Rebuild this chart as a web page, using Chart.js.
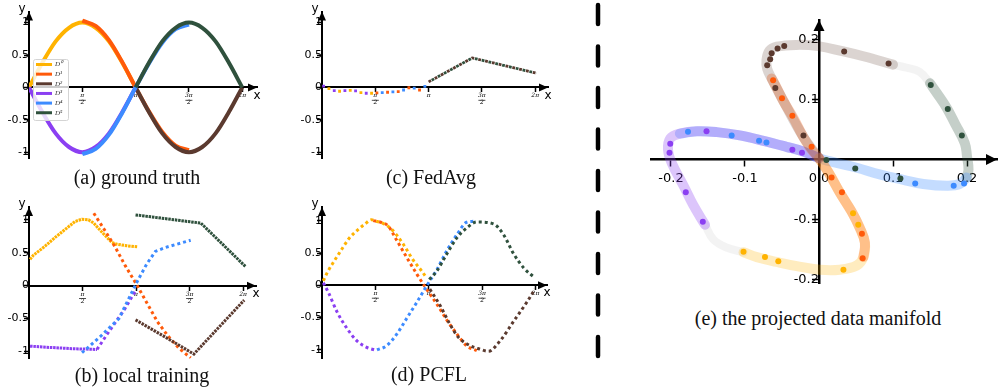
<!DOCTYPE html>
<html>
<head>
<meta charset="utf-8">
<script src="https://cdn.jsdelivr.net/npm/chart.js@4.4.0/dist/chart.umd.min.js"></script>
<style>
  body { margin: 0; background: #fff; width: 998px; height: 389px; position: relative; overflow: hidden; }
  canvas { position: absolute; }
  .cap { position: absolute; font-family: "Liberation Serif", serif; font-size: 20px; color: #111; white-space: nowrap; transform: translate(-50%, -50%); }
  svg { position: absolute; left: 590px; top: 0; }
</style>
</head>
<body>
<canvas id="chartA" width="270" height="170" style="left:0;top:0"></canvas>
<canvas id="chartC" width="285" height="170" style="left:270px;top:0"></canvas>
<canvas id="chartB" width="270" height="175" style="left:0;top:195px"></canvas>
<canvas id="chartD" width="285" height="175" style="left:270px;top:195px"></canvas>
<canvas id="chartE" width="378" height="300" style="left:620px;top:0"></canvas>
<svg width="16" height="389"><line x1="8" y1="5" x2="8" y2="360" stroke="#000" stroke-width="4.5" stroke-linecap="round" stroke-dasharray="19 22.5"/></svg>
<div class="cap" style="left:137px;top:177px">(a) ground truth</div>
<div class="cap" style="left:431px;top:177px">(c) FedAvg</div>
<div class="cap" style="left:142px;top:375px">(b) local training</div>
<div class="cap" style="left:429px;top:374px">(d) PCFL</div>
<div class="cap" style="left:818px;top:318px">(e) the projected data manifold</div>

<script>
// --- Vars ---
const seriesNames = ['D⁰', 'D¹', 'D²', 'D³', 'D⁴', 'D⁵']
const seriesColors = ['#ffb300', '#ff5a0a', '#5b3a2f', '#8b3ff2', '#3d8bff', '#2f513d']

// x is measured in units of pi/2
const xTickValues = [1, 2, 3, 4]
const xTickLabels = [['π', '2'], 'π', ['3π', '2'], '2π']
const yTickValues = [-1, -0.5, 0, 0.5, 1]
const yTickLabels = ['-1', '-0.5', '0', '0.5', '1']

// (a) ground truth
const gt_D0 = [[0, 0], [0.25, 0.38], [0.5, 0.71], [0.75, 0.92], [1, 1], [1.25, 0.92], [1.5, 0.71], [1.75, 0.38], [2, 0]]
const gt_D1 = [[1, 1.03], [1.25, 0.95], [1.5, 0.73], [1.75, 0.39], [2, 0], [2.25, -0.37], [2.5, -0.69], [2.75, -0.9], [3, -0.97]]
const gt_D2 = [[2, 0], [2.25, -0.38], [2.5, -0.71], [2.75, -0.92], [3, -1], [3.25, -0.92], [3.5, -0.71], [3.75, -0.38], [4, 0]]
const gt_D3 = [[0, 0], [0.25, -0.38], [0.5, -0.71], [0.75, -0.92], [1, -1], [1.25, -0.92], [1.5, -0.71], [1.75, -0.38], [2, 0]]
const gt_D4 = [[1, -1.03], [1.25, -0.95], [1.5, -0.73], [1.75, -0.39], [2, 0], [2.25, 0.37], [2.5, 0.69], [2.75, 0.9], [3, 0.97]]
const gt_D5 = [[2, 0], [2.25, 0.38], [2.5, 0.71], [2.75, 0.92], [3, 1], [3.25, 0.92], [3.5, 0.71], [3.75, 0.38], [4, 0]]

// (b) local training
const lt_D0 = [[0.02, 0.4], [0.08, 0.46], [0.3, 0.6], [0.5, 0.74], [0.7, 0.87], [0.86, 0.975], [0.99, 1.01], [1.11, 1.0], [1.21, 0.95], [1.33, 0.84], [1.46, 0.73], [1.55, 0.655], [1.64, 0.63], [1.83, 0.605], [2.02, 0.59]]
const lt_D1 = [[1.21, 1.1], [1.4, 0.86], [1.6, 0.6], [1.8, 0.3], [2.0, 0.03], [2.2, -0.26], [2.4, -0.55], [2.6, -0.77], [2.8, -0.95], [3.02, -1.1]]
const lt_D2 = [[1.99, -0.52], [2.5, -0.76], [3.08, -1.04], [4.02, -0.22]]
const lt_D3_flat = [[0.02, -0.92], [0.4, -0.94], [0.86, -0.96], [1.27, -0.97]]
const lt_D3_rise = [[1.27, -0.97], [1.45, -0.75], [1.62, -0.55], [1.77, -0.38], [1.9, -0.2], [1.99, -0.08]]
const lt_D4 = [[0.99, -1.02], [1.35, -0.76], [1.68, -0.5], [1.85, -0.22], [2.02, 0.06], [2.2, 0.33], [2.36, 0.52], [2.55, 0.58], [3.02, 0.69]]
const lt_D5 = [[1.99, 1.075], [3.21, 0.95], [4.05, 0.285]]

// (c) FedAvg
const fa_D0 = [[0.13, -0.02], [0.33, -0.06], [0.53, -0.045], [0.73, -0.08], [0.93, -0.09]]
const fa_D1 = [[1.03, -0.085], [1.23, -0.075], [1.43, -0.065], [1.63, -0.005], [1.83, -0.04]]
const fa_D3 = [[0.03, 0.02], [0.23, -0.05], [0.43, -0.05], [0.63, -0.055], [0.83, -0.09]]
const fa_D4 = [[1.13, -0.08], [1.33, -0.07], [1.53, -0.04], [1.73, -0.01], [1.93, 0.015]]
const fa_right = [[2.0, 0.085], [2.82, 0.455], [4.02, 0.22]]

// (d) PCFL
const pc_D0 = [[0.025, 0.07], [0.1, 0.2], [0.2, 0.34], [0.34, 0.52], [0.5, 0.72], [0.68, 0.87], [0.8, 0.95], [0.93, 1.02], [1.0, 1.0], [1.15, 0.96], [1.28, 0.89], [1.4, 0.78], [1.53, 0.63], [1.71, 0.39], [1.87, 0.22], [1.96, 0.115]]
const pc_D1 = [[0.96, 1.005], [1.1, 0.98], [1.24, 0.92], [1.4, 0.7], [1.59, 0.43], [1.78, 0.17], [1.96, -0.06], [2.15, -0.29], [2.34, -0.54], [2.53, -0.76], [2.71, -0.94], [2.9, -1.015]]
const pc_D2 = [[2.02, -0.06], [2.21, -0.31], [2.4, -0.61], [2.56, -0.81], [2.78, -0.94], [2.95, -0.99], [3.12, -1.025], [3.34, -0.86], [3.59, -0.56], [3.84, -0.26], [3.99, -0.06]]
const pc_D3 = [[0.025, 0.04], [0.12, -0.11], [0.28, -0.41], [0.46, -0.66], [0.65, -0.86], [0.84, -0.965], [0.99, -1.005]]
const pc_D4 = [[1.03, -1.005], [1.21, -0.94], [1.4, -0.76], [1.59, -0.51], [1.78, -0.26], [1.96, -0.01], [2.15, 0.24], [2.34, 0.54], [2.53, 0.79], [2.71, 0.98], [2.84, 0.995]]
const pc_D5 = [[2.01, 0.09], [2.15, 0.22], [2.34, 0.49], [2.53, 0.74], [2.71, 0.89], [2.9, 0.985], [3.21, 0.955], [3.4, 0.79], [3.59, 0.49], [3.78, 0.27], [3.99, 0.115]]

// (e) projected manifold
const eTickValuesX = [-0.2, -0.1, 0, 0.1, 0.2]
const eTickLabelsX = ['-0.2', '-0.1', '0.0', '0.1', '0.2']
const eTickValuesY = [-0.2, -0.1, 0.1, 0.2]
const eTickLabelsY = ['-0.2', '-0.1', '0.1', '0.2']

const eTrailBrown = [[0.100, 0.158], [0.060, 0.172], [0.033, 0.180], [-0.001, 0.189], [-0.030, 0.191], [-0.057, 0.188], [-0.067, 0.181], [-0.071, 0.165], [-0.070, 0.151], [-0.064, 0.135], [-0.048, 0.097], [-0.021, 0.037], [0, 0.002]]
const eTrailOrange = [[-0.064, 0.135], [-0.057, 0.119], [-0.048, 0.097], [-0.035, 0.070], [-0.021, 0.037], [-0.010, 0.016], [0, 0.002], [0.013, -0.022], [0.028, -0.055], [0.044, -0.087], [0.055, -0.114], [0.062, -0.139], [0.060, -0.163]]
const eTrailYellow = [[0, 0.002], [0.013, -0.022], [0.028, -0.055], [0.044, -0.087], [0.055, -0.114], [0.062, -0.139], [0.060, -0.163], [0.051, -0.177], [0.028, -0.184], [0.001, -0.184], [-0.030, -0.178], [-0.057, -0.171], [-0.084, -0.163], [-0.102, -0.155]]
const eTrailPurple = [[-0.154, -0.109], [-0.170, -0.076], [-0.183, -0.044], [-0.199, -0.006], [-0.204, 0.016], [-0.201, 0.035], [-0.188, 0.043], [-0.165, 0.047], [-0.138, 0.0455], [-0.107, 0.040], [-0.075, 0.031], [-0.044, 0.021], [-0.021, 0.013], [0, 0.002]]
const eTrailBlue = [[-0.188, 0.043], [-0.165, 0.047], [-0.138, 0.0455], [-0.107, 0.040], [-0.075, 0.031], [-0.044, 0.021], [-0.021, 0.013], [0, 0.002], [0.024, -0.006], [0.051, -0.014], [0.082, -0.025], [0.114, -0.034], [0.141, -0.041], [0.1725, -0.044], [0.1905, -0.041], [0.1995, -0.030]]
const eTrailGreen = [[0.1995, -0.030], [0.202, -0.017], [0.200, 0.005], [0.197, 0.027], [0.184, 0.059], [0.1725, 0.086], [0.159, 0.111], [0.150, 0.127]]
const eTrailFadeA = [[-0.154, -0.109], [-0.143, -0.133], [-0.125, -0.147], [-0.102, -0.155]]
const eTrailFadeB = [[0.100, 0.158], [0.118, 0.153], [0.136, 0.146], [0.150, 0.127]]

const eDotsBrown = [[0.094, 0.160], [0.034, 0.180], [-0.047, 0.189], [-0.056, 0.185], [-0.064, 0.177], [-0.066, 0.167], [-0.070, 0.157], [-0.059, 0.119], [-0.021, 0.040]]
const eDotsOrange = [[-0.062, 0.132], [-0.050, 0.102], [-0.036, 0.073], [-0.010, 0.021], [0.017, -0.030], [0.031, -0.055], [0.058, -0.124], [0.059, -0.165]]
const eDotsYellow = [[0.046, -0.090], [0.053, -0.109], [0.033, -0.184], [-0.055, -0.170], [-0.073, -0.163], [-0.102, -0.154]]
const eDotsPurple = [[-0.157, -0.104], [-0.180, -0.055], [-0.202, 0.011], [-0.201, 0.026], [-0.152, 0.047], [-0.036, 0.016], [-0.023, 0.011]]
const eDotsBlue = [[-0.177, 0.046], [-0.118, 0.040], [-0.081, 0.031], [-0.071, 0.028], [0.130, -0.040], [0.182, -0.044], [0.196, -0.040]]
const eDotsGreen = [[0.010, -0.001], [0.049, -0.015], [0.110, -0.032], [0.193, 0.040], [0.174, 0.084], [0.151, 0.124]]

// --- Helpers ---
const pts = a => a.map(p => ({x: p[0], y: p[1]}))

function rgba(hex, a) {
    const n = parseInt(hex.slice(1), 16)
    return `rgba(${n >> 16},${(n >> 8) & 255},${n & 255},${a})`
}

function lineSet(data, i, width, dash, smooth) {
    return {
        label: seriesNames[i], data: pts(data), showLine: true,
        borderColor: seriesColors[i], backgroundColor: seriesColors[i],
        borderWidth: width, borderDash: dash || [], pointRadius: 0,
        cubicInterpolationMode: smooth ? 'monotone' : 'default', tension: 0,
        order: 10 - i
    }
}

function dotSet(data, i, style, r) {
    return {
        label: seriesNames[i], data: pts(data), showLine: false,
        pointStyle: style, pointRadius: r, borderWidth: 0,
        backgroundColor: seriesColors[i], order: 10 - i
    }
}

function trailSet(data, color, alpha, width) {
    return {
        data: pts(data), showLine: true, borderColor: rgba(color, alpha), borderWidth: width,
        borderCapStyle: 'round', borderJoinStyle: 'round', pointRadius: 0, tension: 0.4, order: 20
    }
}

function centerScales(o) {
    const grid = {drawOnChartArea: false, drawTicks: true, tickLength: o.tickLen, tickWidth: 1.5, color: '#000'}
    return {
        x: {
            type: 'linear', min: o.xMin, max: o.xMax, position: {y: 0},
            afterBuildTicks: s => { s.ticks = o.xTicks.map(v => ({value: v})) },
            ticks: {autoSkip: false, maxRotation: 0, padding: o.xPad, color: '#000', font: o.xFont,
                callback: v => o.xLabels[o.xTicks.indexOf(v)]},
            grid: grid,
            border: {display: true, color: '#000', width: o.axisW}
        },
        y: {
            type: 'linear', min: o.yMin, max: o.yMax, position: {x: 0},
            afterBuildTicks: s => { s.ticks = o.yTicks.map(v => ({value: v})) },
            ticks: {autoSkip: false, padding: o.yPad, color: '#000', font: o.yFont,
                callback: v => o.yLabels[o.yTicks.indexOf(v)]},
            grid: grid,
            border: {display: true, color: '#000', width: o.axisW}
        }
    }
}

// arrowheads, axis names, fraction bars and legend box
const decorPlugin = {
    id: 'decor',
    afterDraw(chart, args, opts) {
        const {ctx, chartArea: a, scales: {x, y}} = chart
        const x0 = x.getPixelForValue(0), y0 = y.getPixelForValue(0)
        const L = opts.len, W = opts.half
        ctx.save()
        ctx.fillStyle = '#000'
        ctx.beginPath()
        ctx.moveTo(a.right, y0); ctx.lineTo(a.right - L, y0 - W); ctx.lineTo(a.right - L, y0 + W)
        ctx.closePath(); ctx.fill()
        ctx.beginPath()
        ctx.moveTo(x0, a.top); ctx.lineTo(x0 - W, a.top + L); ctx.lineTo(x0 + W, a.top + L)
        ctx.closePath(); ctx.fill()

        if (opts.titles) {
            ctx.font = '12px "DejaVu Sans"'
            ctx.textBaseline = 'middle'
            ctx.textAlign = 'center'
            ctx.fillText('x', a.right, y0 + 8)
            ctx.fillText('y', x0 - 7, a.top - 3)
        }

        if (opts.fracBars) {
            ctx.strokeStyle = '#000'
            ctx.lineWidth = 0.7
            const by = y0 + 1 + 4 + 1 + 6 * 1.15
            xTickValues.forEach((v, i) => {
                if (Array.isArray(xTickLabels[i])) {
                    const px = x.getPixelForValue(v)
                    ctx.beginPath(); ctx.moveTo(px - 3.5, by); ctx.lineTo(px + 3.5, by); ctx.stroke()
                }
            })
        }

        if (opts.legend) {
            const lx = 33, ly = 59, lw = 35, lh = 61
            ctx.fillStyle = 'rgba(255,255,255,0.8)'
            ctx.strokeStyle = '#d4d4d4'
            ctx.lineWidth = 1
            ctx.beginPath(); ctx.roundRect(lx + 0.5, ly + 0.5, lw, lh, 2); ctx.fill(); ctx.stroke()
            ctx.font = 'italic 7px "Liberation Serif"'
            ctx.textAlign = 'left'
            ctx.textBaseline = 'middle'
            seriesNames.forEach((name, i) => {
                const yy = ly + 5.5 + i * 9.65
                ctx.strokeStyle = seriesColors[i]
                ctx.lineWidth = 3
                ctx.beginPath(); ctx.moveTo(lx + 3, yy); ctx.lineTo(lx + 19, yy); ctx.stroke()
                ctx.fillStyle = '#333'
                ctx.fillText(name, lx + 22, yy)
            })
        }
        ctx.restore()
    }
}

const smallX = {family: 'DejaVu Serif', size: 6, style: 'italic', lineHeight: 1.15}
const tickY = {family: 'DejaVu Sans', size: 11}

function panelScales(xMax, yMin, yMax) {
    return centerScales({
        xMin: 0, xMax: xMax, yMin: yMin, yMax: yMax,
        xTicks: xTickValues, xLabels: xTickLabels, yTicks: yTickValues, yLabels: yTickLabels,
        xPad: 1, yPad: 5, tickLen: 4, xFont: smallX, yFont: tickY, axisW: 2
    })
}

function makeChart(id, datasets, scales, padding, decor) {
    return new Chart(document.getElementById(id), {
        type: 'scatter',
        data: {datasets: datasets},
        options: {
            responsive: false, animation: false, events: [],
            layout: {padding: padding, autoPadding: false},
            scales: scales,
            plugins: {legend: {display: false}, tooltip: {enabled: false}, decor: decor}
        },
        plugins: [decorPlugin]
    })
}

// --- Main ---
const sparse = [3, 3]

makeChart('chartA', [
    lineSet(gt_D0, 0, 4, null, true), lineSet(gt_D1, 1, 4, null, true), lineSet(gt_D2, 2, 4, null, true),
    lineSet(gt_D3, 3, 4, null, true), lineSet(gt_D4, 4, 4, null, true), lineSet(gt_D5, 5, 4, null, true)
], panelScales(4.277, -1.096, 1.17), {left: 29, top: 10, right: 13, bottom: 7},
    {len: 9, half: 4, titles: true, fracBars: true, legend: true})

makeChart('chartB', [
    lineSet(lt_D0, 0, 3, [2.5, 0.8]), lineSet(lt_D1, 1, 3, sparse), lineSet(lt_D2, 2, 3, [2.5, 1]),
    lineSet(lt_D3_flat, 3, 3, [2.5, 0.8]), lineSet(lt_D3_rise, 3, 3, sparse),
    lineSet(lt_D4, 4, 3, sparse), lineSet(lt_D5, 5, 3, [2.5, 0.8])
], panelScales(4.24, -1.106, 1.195), {left: 29, top: 12, right: 14, bottom: 7},
    {len: 9, half: 4, titles: true, fracBars: true})

const faBrown = lineSet(fa_right, 2, 2.8, [2.8, 4.2])
const faGreen = lineSet(fa_right, 5, 2.8, [2.8, 4.2])
faGreen.borderDashOffset = 3.5

makeChart('chartC', [
    dotSet(fa_D0, 0, 'rect', 2), dotSet(fa_D1, 1, 'rect', 2), faBrown,
    dotSet(fa_D3, 3, 'rect', 2), dotSet(fa_D4, 4, 'rect', 2), faGreen
], panelScales(4.24, -1.096, 1.17), {left: 52, top: 10, right: 7, bottom: 7},
    {len: 9, half: 4, titles: true, fracBars: true})

makeChart('chartD', [
    lineSet(pc_D0, 0, 3, sparse, true), lineSet(pc_D1, 1, 3, sparse, true), lineSet(pc_D2, 2, 3, sparse, true),
    lineSet(pc_D3, 3, 3, sparse, true), lineSet(pc_D4, 4, 3, sparse, true), lineSet(pc_D5, 5, 3, sparse, true)
], panelScales(4.216, -1.136, 1.217), {left: 52, top: 12, right: 8, bottom: 7},
    {len: 9, half: 4, titles: true, fracBars: true})

const eDots = [eDotsYellow, eDotsOrange, eDotsBrown, eDotsPurple, eDotsBlue, eDotsGreen]
makeChart('chartE', [
    trailSet(eTrailBrown, seriesColors[2], 0.22, 10),
    trailSet(eTrailOrange, seriesColors[1], 0.3, 10),
    trailSet(eTrailYellow, seriesColors[0], 0.25, 10),
    trailSet(eTrailPurple, seriesColors[3], 0.3, 10),
    trailSet(eTrailBlue, seriesColors[4], 0.3, 10),
    trailSet(eTrailGreen, seriesColors[5], 0.28, 10),
    trailSet(eTrailFadeA, '#9a9a9a', 0.12, 8),
    trailSet(eTrailFadeB, '#9a9a9a', 0.12, 8),
    ...eDots.map((d, i) => dotSet(d, i, 'circle', 3))
], centerScales({
    xMin: -0.227, xMax: 0.2405, yMin: -0.2065, yMax: 0.2325,
    xTicks: eTickValuesX, xLabels: eTickLabelsX, yTicks: eTickValuesY, yLabels: eTickLabelsY,
    xPad: 5, yPad: 9, tickLen: 6, xFont: {family: 'DejaVu Sans', size: 13}, yFont: {family: 'DejaVu Sans', size: 13}, axisW: 2.5
}), {left: 31, top: 20, right: 1, bottom: 10}, {len: 11, half: 5.5})
</script>
</body>
</html>
